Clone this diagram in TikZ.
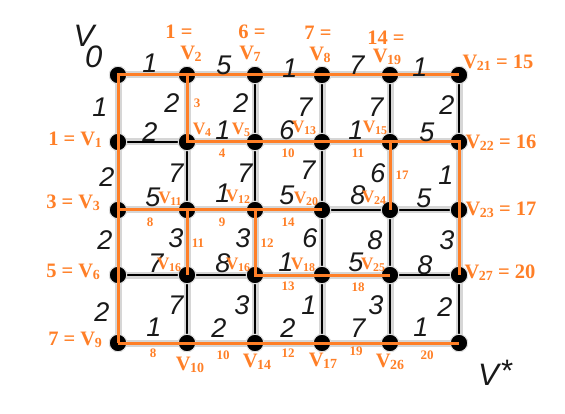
\documentclass[tikz,border=0pt]{standalone}
\usepackage{fontspec}
\setmainfont{Liberation Serif}
\newfontfamily\handfont{Liberation Sans}
\definecolor{porange}{RGB}{255,127,39}
\newcommand\Vsub[1]{V\kern-0.5pt\raisebox{-0.1em}{\scalebox{0.68}{#1}}}
\begin{document}
\begin{tikzpicture}[x=1pt,y=-1pt,
 gdot/.style={circle,fill=black,draw=black!12,line width=1pt,inner sep=0,minimum size=17.5pt},
 halo/.style={line width=7pt,black!16},
 blk/.style={line width=2.4pt,black},
 opath/.style={line width=3pt,porange,line join=miter},
 wt/.style={font=\handfont\itshape\fontsize{27}{27}\selectfont,text=black!90,inner sep=0},
 bigv/.style={font=\handfont\itshape\fontsize{31}{31}\selectfont,text=black!90,inner sep=0},
 big/.style={font=\bfseries\fontsize{20.5}{20.5}\selectfont,text=porange,inner sep=0},
 vin/.style={font=\bfseries\fontsize{17.5}{17.5}\selectfont,text=porange,inner sep=0},
 el/.style={font=\bfseries\fontsize{13}{13}\selectfont,text=porange,inner sep=0}]
\useasboundingbox (0,0) rectangle (565,414);
% grid nodes
\foreach \x [count=\i from 0] in {118,187,255,322,390,459}{
  \foreach \y [count=\j from 0] in {75,142,210,275,343}{
    \coordinate (n\i\j) at (\x,\y);
  }
}
% halo + black edges
\foreach \i in {0,...,4}{
  \pgfmathtruncatemacro\ii{\i+1}
  \foreach \j in {0,...,4}{
    \draw[halo] (n\i\j) -- (n\ii\j);
  }
}
\foreach \i in {0,...,5}{
  \foreach \j [evaluate=\j as \jj using {int(\j+1)}] in {0,...,3}{
    \draw[halo] (n\i\j) -- (n\i\jj);
  }
}
\foreach \i in {0,...,4}{
  \pgfmathtruncatemacro\ii{\i+1}
  \foreach \j in {0,...,4}{
    \draw[blk] (n\i\j) -- (n\ii\j);
  }
}
\foreach \i in {0,...,5}{
  \foreach \j [evaluate=\j as \jj using {int(\j+1)}] in {0,...,3}{
    \draw[blk] (n\i\j) -- (n\i\jj);
  }
}
% dots
\foreach \i in {0,...,5}{
  \foreach \j in {0,...,4}{
    \node[gdot] (d\i\j) at (n\i\j) {};
  }
}
% orange tree
\draw[opath] (n04) -- (n03) -- (n02) -- (n01) -- (n00) -- (n10) -- (n20) -- (n30) -- (n40) -- (n50);
\draw[opath] (n10) -- (n11) -- (n21) -- (n31) -- (n41) -- (n51) -- (n52) -- (n53);
\draw[opath] (n41) -- (n42);
\draw[opath] (n02) -- (n12) -- (n22) -- (n32);
\draw[opath] (n12) -- (n13);
\draw[opath] (n22) -- (n23) -- (n33) -- (n43);
\draw[opath] (n04) -- (n14) -- (n24) -- (n34) -- (n44) -- (n54);
% black weights
\node[wt] (w01) at (150,63) {1};
\node[wt] (w02) at (224,65) {5};
\node[wt] (w03) at (290,68) {1};
\node[wt] (w04) at (357,65) {7};
\node[wt] (w05) at (420,67) {1};
\node[wt] (w06) at (100,107) {1};
\node[wt] (w07) at (172,103) {2};
\node[wt] (w08) at (241,103) {2};
\node[wt] (w09) at (305,107) {7};
\node[wt] (w10) at (376,107) {7};
\node[wt] (w11) at (447,105) {2};
\node[wt] (w12) at (150,132) {2};
\node[wt] (w13) at (223,130) {1};
\node[wt] (w14) at (287,130) {6};
\node[wt] (w15) at (356,130) {1};
\node[wt] (w16) at (427,132) {5};
\node[wt] (w17) at (107,177) {2};
\node[wt] (w18) at (176,173) {7};
\node[wt] (w19) at (245,173) {7};
\node[wt] (w20) at (308,170) {7};
\node[wt] (w21) at (378,173) {6};
\node[wt] (w22) at (446,175) {1};
\node[wt] (w23) at (153,197) {5};
\node[wt] (w24) at (223,193) {1};
\node[wt] (w25) at (287,195) {5};
\node[wt] (w26) at (358,195) {8};
\node[wt] (w27) at (424,198) {5};
\node[wt] (w28) at (105,240) {2};
\node[wt] (w29) at (176,238) {3};
\node[wt] (w30) at (243,238) {3};
\node[wt] (w31) at (310,238) {6};
\node[wt] (w32) at (375,240) {8};
\node[wt] (w33) at (447,240) {3};
\node[wt] (w34) at (156,263) {7};
\node[wt] (w35) at (223,263) {8};
\node[wt] (w36) at (286,262) {1};
\node[wt] (w37) at (356,262) {5};
\node[wt] (w38) at (425,265) {8};
\node[wt] (w39) at (102,312) {2};
\node[wt] (w40) at (176,305) {7};
\node[wt] (w41) at (242,305) {3};
\node[wt] (w42) at (309,305) {1};
\node[wt] (w43) at (376,305) {3};
\node[wt] (w44) at (445,307) {2};
\node[wt] (w45) at (154,327) {1};
\node[wt] (w46) at (219,328) {2};
\node[wt] (w47) at (288,328) {2};
\node[wt] (w48) at (358,328) {7};
\node[wt] (w49) at (421,327) {1};
% V0 and V*
\node[bigv] (v0) at (88,46) {V\kern-9pt\raisebox{-21pt}{0}};
\node[bigv] (vstar) at (495,373) {V\kern1pt\raisebox{4pt}{*}};
% orange outer labels
\node[big] (l2a) at (179,32) {1 =};
\node[big] (l2b) at (191,54) {\Vsub{2}};
\node[big] (l7a) at (252,32) {6 =};
\node[big] (l7b) at (250,54) {\Vsub{7}};
\node[big] (l8a) at (318,33) {7 =};
\node[big] (l8b) at (320,55) {\Vsub{8}};
\node[big] (l19a) at (386,38) {14 =};
\node[big] (l19b) at (387,57) {\Vsub{19}};
\node[big] (l21) at (498,63) {\Vsub{21} = 15};
\node[big] (l22) at (501,143) {\Vsub{22} = 16};
\node[big] (l23) at (501,210) {\Vsub{23} = 17};
\node[big] (l27) at (500,273) {\Vsub{27} = 20};
\node[big] (l1) at (75,140) {1 = \Vsub{1}};
\node[big] (l3) at (73,203) {3 = \Vsub{3}};
\node[big] (l6) at (73,272) {5 = \Vsub{6}};
\node[big] (l9) at (75,340) {7 = \Vsub{9}};
\node[big] (l10) at (190,365) {\Vsub{10}};
\node[big] (l14) at (257,362) {\Vsub{14}};
\node[big] (l17) at (323,361) {\Vsub{17}};
\node[big] (l26) at (390,362) {\Vsub{26}};
% orange inner labels
\node[vin] (l4) at (202,130) {\Vsub{4}};
\node[vin] (l5) at (241,130) {\Vsub{5}};
\node[vin] (l13) at (304,128) {\Vsub{13}};
\node[vin] (l15) at (375,128) {\Vsub{15}};
\node[vin] (l11) at (170,199) {\Vsub{11}};
\node[vin] (l12) at (238,197) {\Vsub{12}};
\node[vin] (l20) at (306,199) {\Vsub{20}};
\node[vin] (l24) at (374,198) {\Vsub{24}};
\node[vin] (l16a) at (169,265) {\Vsub{16}};
\node[vin] (l16b) at (238,265) {\Vsub{16}};
\node[vin] (l18) at (303,265) {\Vsub{18}};
\node[vin] (l25) at (373,265) {\Vsub{25}};
% orange edge labels
\node[el] (e1) at (197,103) {3};
\node[el] (e2) at (222,153) {4};
\node[el] (e3) at (288,153) {10};
\node[el] (e4) at (358,153) {11};
\node[el] (e5) at (402,175) {17};
\node[el] (e6) at (150,222) {8};
\node[el] (e7) at (222,222) {9};
\node[el] (e8) at (288,222) {14};
\node[el] (e9) at (198,243) {11};
\node[el] (e10) at (267,243) {12};
\node[el] (e11) at (288,286) {13};
\node[el] (e12) at (358,287) {18};
\node[el] (e13) at (153,353) {8};
\node[el] (e14) at (223,355) {10};
\node[el] (e15) at (288,353) {12};
\node[el] (e16) at (356,351) {19};
\node[el] (e17) at (427,355) {20};
\end{tikzpicture}
\end{document}
